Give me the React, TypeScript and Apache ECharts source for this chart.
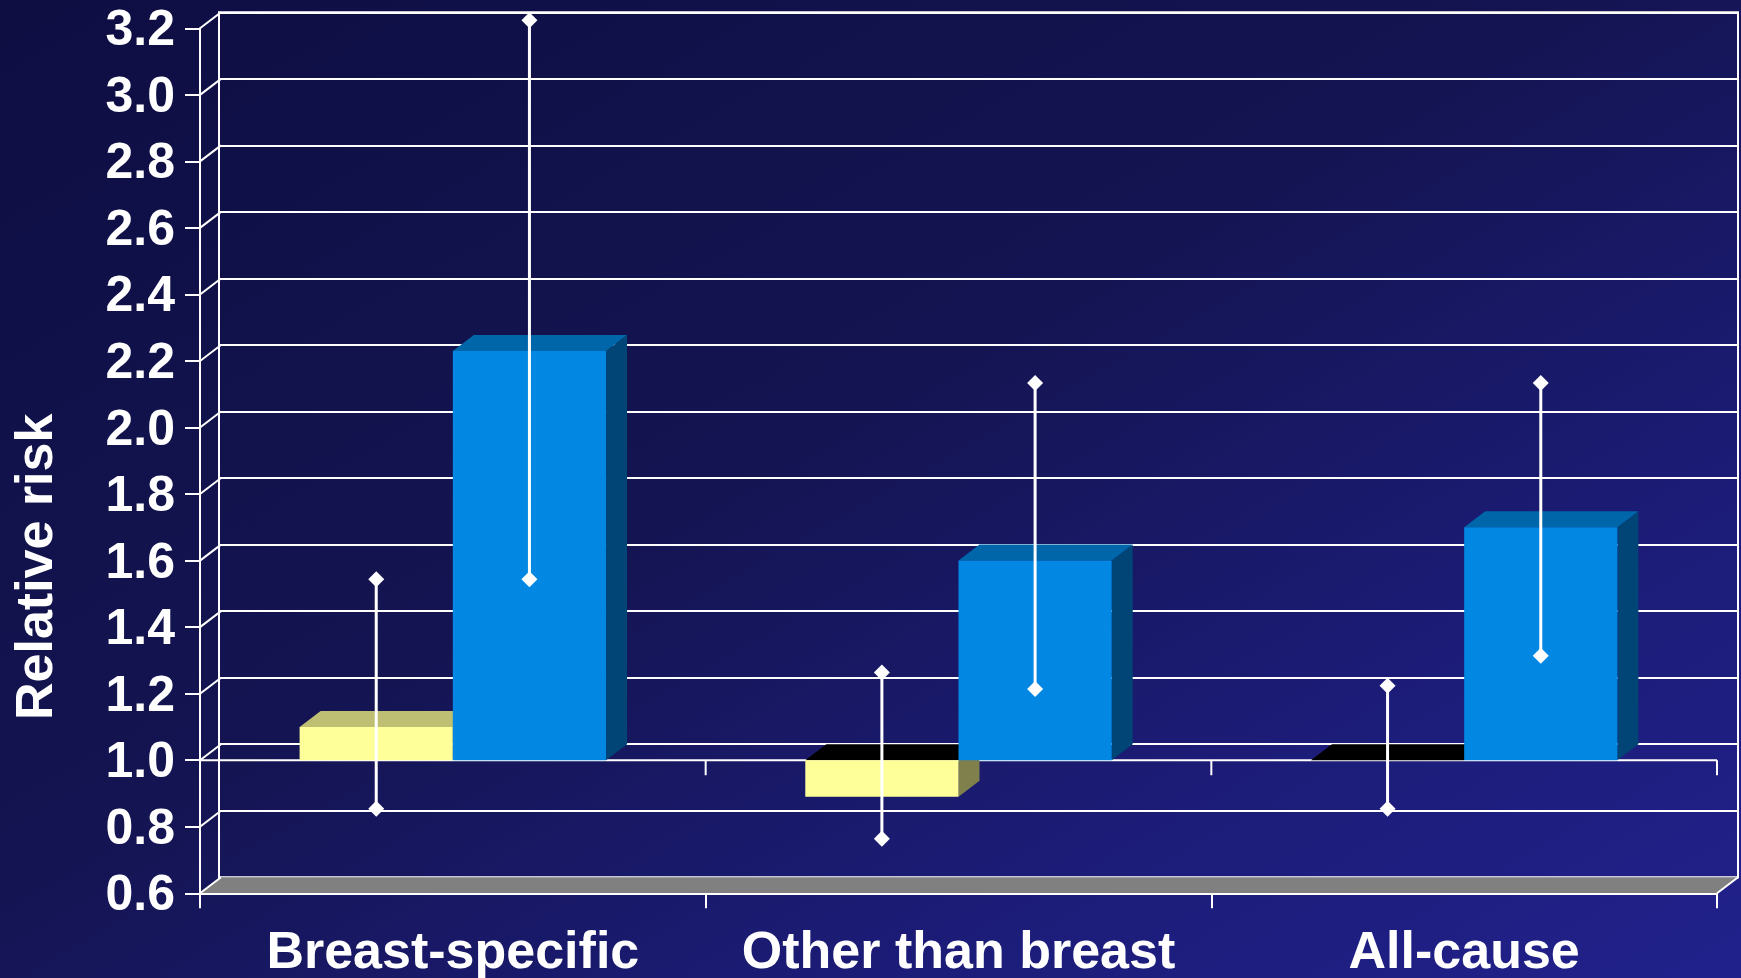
import React, { useEffect, useRef } from "react";
import * as echarts from "echarts";

// ---- data ----
const categories = ["Breast-specific", "Other than breast", "All-cause"];
const yellowValues = [1.1, 0.89, 1.0];
const blueValues = [2.23, 1.6, 1.7];
const yellowLow = [0.83, 0.74, 0.83];
const yellowHigh = [1.52, 1.24, 1.2];
const blueLow = [1.52, 1.19, 1.29];
const blueHigh = [3.2, 2.11, 2.11];
const yMin = 0.6;
const yMax = 3.2;
const yStep = 0.2;
const baseline = 1.0;
const yAxisTitle = "Relative risk";

// ---- style constants ----
const DX = 21;
const DY = 16;
const BAR_RATIO = 0.303;
const FONT = "'Liberation Sans', Arial, Helvetica, sans-serif";
const WHITE = "#FFFFFF";

const yellowColors = { front: "#FFFF99", top: "#BFBF73", side: "#80804D", neg: "#000000" };
const blueColors = { front: "#0288E3", top: "#0066AA", side: "#004575", neg: "#000000" };

function tickValues(): number[] {
  const out: number[] = [];
  const n = Math.round((yMax - yMin) / yStep);
  for (let i = 0; i <= n; i++) out.push(+(yMin + i * yStep).toFixed(4));
  return out;
}

function barRenderer(colors: any, side: number) {
  return (params: any, api: any) => {
    const cat = api.value(0);
    const val = api.value(1);
    const base = api.coord([cat, baseline]);
    const top = api.coord([cat, val]);
    const band = api.size([1, 0])[0];
    const w = band * BAR_RATIO;
    const x0 = side < 0 ? base[0] - w : base[0];
    const x1 = x0 + w;
    const yb = base[1];
    const yv = top[1];
    const children: any[] = [];
    if (val > baseline) {
      children.push({
        type: "polygon",
        shape: { points: [[x1, yv], [x1 + DX, yv - DY], [x1 + DX, yb - DY], [x1, yb]] },
        style: { fill: colors.side },
      });
      children.push({
        type: "polygon",
        shape: { points: [[x0, yv], [x1, yv], [x1 + DX, yv - DY], [x0 + DX, yv - DY]] },
        style: { fill: colors.top },
      });
      children.push({
        type: "rect",
        shape: { x: x0, y: yv, width: w, height: yb - yv },
        style: { fill: colors.front },
      });
    } else {
      children.push({
        type: "polygon",
        shape: { points: [[x1, yb], [x1 + DX, yb - DY], [x1 + DX, yv - DY], [x1, yv]] },
        style: { fill: colors.side },
      });
      children.push({
        type: "polygon",
        shape: { points: [[x0, yb], [x1, yb], [x1 + DX, yb - DY], [x0 + DX, yb - DY]] },
        style: { fill: colors.neg },
      });
      if (yv - yb > 0.5) {
        children.push({
          type: "rect",
          shape: { x: x0, y: yb, width: w, height: yv - yb },
          style: { fill: colors.front },
        });
      }
    }
    return { type: "group", children };
  };
}

function errRenderer(side: number) {
  return (params: any, api: any) => {
    const cat = api.value(0);
    const lo = api.coord([cat, api.value(1)]);
    const hi = api.coord([cat, api.value(2)]);
    const band = api.size([1, 0])[0];
    const w = band * BAR_RATIO;
    const x = lo[0] + (side * w) / 2;
    const yLo = lo[1] - DY / 2;
    const yHi = hi[1] - DY / 2;
    const dm = (y: number) => ({
      type: "polygon",
      shape: { points: [[x, y - 8], [x + 8, y], [x, y + 8], [x - 8, y]] },
      style: { fill: WHITE },
    });
    return {
      type: "group",
      children: [
        { type: "line", shape: { x1: x, y1: yLo, x2: x, y2: yHi }, style: { stroke: WHITE, lineWidth: 3 } },
        dm(yLo),
        dm(yHi),
      ],
    };
  };
}

function frameRenderer(params: any, api: any) {
  const cs = params.coordSys;
  const L = cs.x;
  const R = cs.x + cs.width;
  const B = cs.y + cs.height;
  const children: any[] = [];
  children.push({
    type: "polygon",
    shape: { points: [[L, B], [R, B], [R + DX, B - DY], [L + DX, B - DY]] },
    style: { fill: "#808080" },
  });
  children.push({
    type: "line",
    shape: { x1: R, y1: B, x2: R + DX, y2: B - DY },
    style: { stroke: WHITE, lineWidth: 2 },
  });
  tickValues().forEach((t) => {
    const y = api.coord([0, t])[1];
    children.push({
      type: "line",
      shape: { x1: L, y1: y, x2: L + DX, y2: y - DY },
      style: { stroke: WHITE, lineWidth: 2 },
    });
  });
  const yb = api.coord([0, baseline])[1];
  children.push({
    type: "line",
    shape: { x1: L, y1: yb, x2: R, y2: yb },
    style: { stroke: WHITE, lineWidth: 2 },
  });
  const n = categories.length;
  for (let i = 1; i <= n; i++) {
    const x = L + (cs.width * i) / n;
    children.push({
      type: "line",
      shape: { x1: x, y1: yb, x2: x, y2: yb + 15 },
      style: { stroke: WHITE, lineWidth: 2 },
    });
  }
  return { type: "group", children };
}

export default function App() {
  const ref = useRef<HTMLDivElement>(null);
  useEffect(() => {
    if (!ref.current) return;
    const chart = echarts.init(ref.current, undefined, { renderer: "svg" });
    const gridFront = { left: 198, right: 24, top: 28.3, bottom: 84.7 };
    const gridBack = { left: 198 + DX, right: 24 - DX, top: 28.3 - DY, bottom: 84.7 + DY };
    const option: any = {
      animation: false,
      backgroundColor: "transparent",
      grid: [
        { ...gridFront, show: false },
        { ...gridBack, show: true, borderColor: WHITE, borderWidth: 2, backgroundColor: "transparent" },
      ],
      xAxis: [
        {
          gridIndex: 0,
          type: "category",
          data: categories,
          boundaryGap: true,
          axisLine: { show: true, lineStyle: { color: WHITE, width: 2 } },
          axisTick: { show: true, length: 15, interval: 0, lineStyle: { color: WHITE, width: 2 } },
          axisLabel: {
            color: WHITE,
            fontSize: 52,
            fontWeight: "bold",
            fontFamily: FONT,
            margin: 31,
            interval: 0,
          },
          splitLine: { show: false },
          z: 5,
        },
        {
          gridIndex: 1,
          type: "category",
          data: categories,
          show: false,
        },
      ],
      yAxis: [
        {
          gridIndex: 0,
          type: "value",
          min: yMin,
          max: yMax,
          interval: yStep,
          name: yAxisTitle,
          nameLocation: "middle",
          nameRotate: 90,
          nameGap: 140,
          nameTextStyle: {
            color: WHITE,
            fontSize: 52,
            fontWeight: "bold",
            fontFamily: FONT,
            padding: [0, 212, 0, 0],
          },
          axisLine: { show: true, lineStyle: { color: WHITE, width: 2 } },
          axisTick: { show: true, length: 15, lineStyle: { color: WHITE, width: 2 } },
          axisLabel: {
            color: WHITE,
            fontSize: 50,
            fontWeight: "bold",
            fontFamily: FONT,
            margin: 25,
            formatter: (v: number) => v.toFixed(1),
          },
          splitLine: { show: false },
          z: 5,
        },
        {
          gridIndex: 1,
          type: "value",
          min: yMin,
          max: yMax,
          interval: yStep,
          axisLine: { show: false },
          axisTick: { show: false },
          axisLabel: { show: false },
          splitLine: { show: true, lineStyle: { color: WHITE, width: 2 } },
        },
      ],
      series: [
        {
          type: "custom",
          name: "frame",
          xAxisIndex: 0,
          yAxisIndex: 0,
          z: 1,
          silent: true,
          data: [[0, baseline]],
          renderItem: frameRenderer,
        },
        {
          type: "custom",
          name: "Yellow",
          xAxisIndex: 0,
          yAxisIndex: 0,
          z: 3,
          data: yellowValues.map((v, i) => [i, v]),
          renderItem: barRenderer(yellowColors, -1),
        },
        {
          type: "custom",
          name: "Blue",
          xAxisIndex: 0,
          yAxisIndex: 0,
          z: 3,
          data: blueValues.map((v, i) => [i, v]),
          renderItem: barRenderer(blueColors, 1),
        },
        {
          type: "custom",
          name: "Yellow CI",
          xAxisIndex: 0,
          yAxisIndex: 0,
          z: 4,
          data: yellowLow.map((v, i) => [i, v, yellowHigh[i]]),
          encode: { x: 0, y: [1, 2] },
          renderItem: errRenderer(-1),
        },
        {
          type: "custom",
          name: "Blue CI",
          xAxisIndex: 0,
          yAxisIndex: 0,
          z: 4,
          data: blueLow.map((v, i) => [i, v, blueHigh[i]]),
          encode: { x: 0, y: [1, 2] },
          renderItem: errRenderer(1),
        },
      ],
    };
    chart.setOption(option);
    return () => chart.dispose();
  }, []);
  return (
    <div
      ref={ref}
      style={{
        position: "fixed",
        left: 0,
        top: 0,
        width: 1741,
        height: 978,
        background: "linear-gradient(to bottom right, #0E0E43 0%, #141452 45%, #1C1C78 75%, #21218C 100%)",
      }}
    />
  );
}
